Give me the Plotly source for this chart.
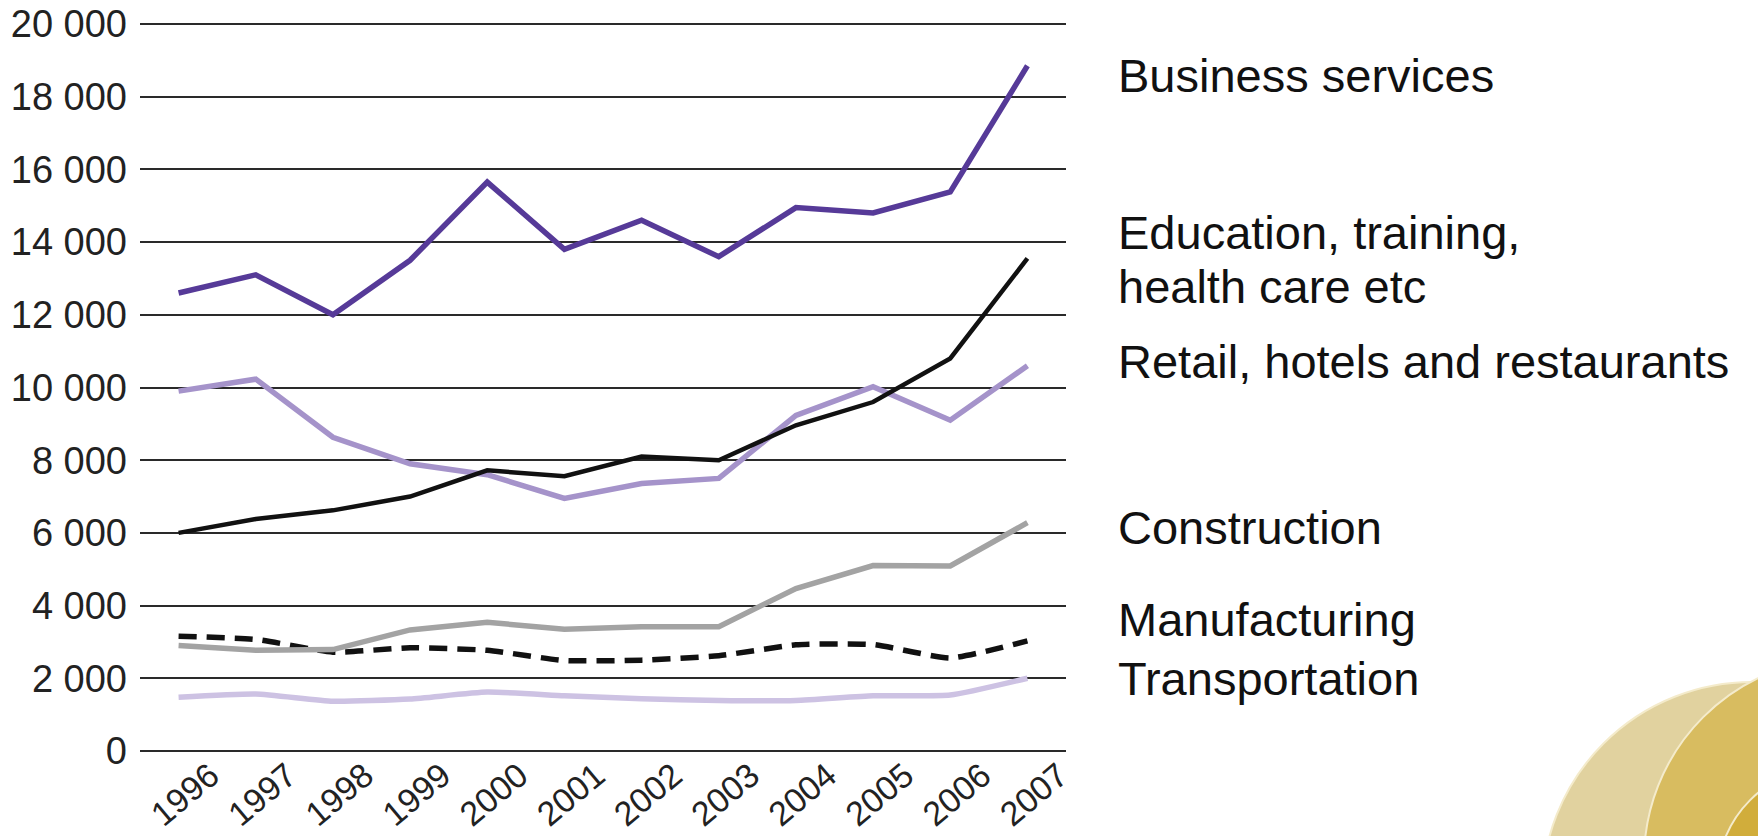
import plotly.graph_objects as go

years = ["1996", "1997", "1998", "1999", "2000", "2001", "2002", "2003", "2004", "2005", "2006", "2007"]
business = [12600, 13100, 12000, 13500, 15650, 13800, 14600, 13600, 14950, 14800, 15380, 18850]
education = [6000, 6380, 6620, 7000, 7720, 7560, 8100, 8000, 8960, 9600, 10800, 13550]
retail = [9900, 10230, 8630, 7900, 7600, 6950, 7360, 7500, 9230, 10020, 9100, 10600]
construction = [2900, 2770, 2790, 3330, 3540, 3350, 3420, 3420, 4470, 5100, 5090, 6280]
manufacturing = [3160, 3070, 2720, 2840, 2770, 2490, 2500, 2620, 2920, 2930, 2560, 3030]
transportation = [1480, 1570, 1370, 1430, 1620, 1520, 1440, 1390, 1390, 1520, 1540, 2000]

y_ticks = [0, 2000, 4000, 6000, 8000, 10000, 12000, 14000, 16000, 18000, 20000]

FONT = "Liberation Sans, Arial, sans-serif"
W, H = 1758, 836
ML, MR, MT, MB = 140, 692, 22, 85
PW, PH = W - ML - MR, H - MT - MB
Y_TOP = 20000 * PH / 727.0  # keeps 20 000 gridline just inside the plot area

fig = go.Figure()
series = [
    ("Transportation", transportation, dict(color="#cdc2e3", width=5.5, shape="spline", smoothing=0.5)),
    ("Manufacturing", manufacturing, dict(color="#111111", width=5.5, dash="18px,10px", shape="spline", smoothing=0.5)),
    ("Construction", construction, dict(color="#a3a3a3", width=5.5)),
    ("Retail, hotels and restaurants", retail, dict(color="#a593ca", width=5.5)),
    ("Education, training, health care etc", education, dict(color="#111111", width=4.5)),
    ("Business services", business, dict(color="#563a98", width=5.5)),
]
for name, vals, line in series:
    fig.add_trace(go.Scatter(x=years, y=vals, mode="lines", name=name, line=line,
                             hoverinfo="skip"))


def px_x(px):
    return (px - ML) / PW


def px_y(py):
    return (H - MB - py) / PH


# right-side labels
labels = [
    ("Business services", 75),
    ("Education, training,", 233),
    ("health care etc", 286),
    ("Retail, hotels and restaurants", 362),
    ("Construction", 527),
    ("Manufacturing", 619),
    ("Transportation", 678),
]
for text, py in labels:
    fig.add_annotation(x=px_x(1116), y=px_y(py), xref="paper", yref="paper", text=text,
                       showarrow=False, xanchor="left", yanchor="middle",
                       font=dict(family=FONT, size=47, color="#111111"))


# decorative discs bottom-right
def disc(cx, cy, r, fill):
    fig.add_shape(type="circle", xref="paper", yref="paper",
                  x0=px_x(cx - r), x1=px_x(cx + r), y0=px_y(cy + r), y1=px_y(cy - r),
                  fillcolor=fill, line=dict(color="#f4ebcb", width=2), layer="below")


disc(1752, 892, 210, "#e1d29f")
disc(1846, 860, 202, "#d8bc60")
disc(1830, 880, 113, "#d1ad3b")

fig.update_layout(
    width=W, height=H, autosize=False,
    margin=dict(l=ML, r=MR, t=MT, b=MB, pad=0, autoexpand=False),
    paper_bgcolor="white", plot_bgcolor="white",
    showlegend=False, separators=". ",
    font=dict(family=FONT, color="#222222"),
    xaxis=dict(type="category", range=[-0.5, 11.5], showgrid=False, zeroline=False,
               showline=False, ticks="", tickangle=-40, automargin=False,
               tickfont=dict(family=FONT, size=34, color="#222222"),
               ticklabelshift=32, ticklabelstandoff=-3),
    yaxis=dict(range=[0, Y_TOP], tickvals=y_ticks, tickformat=",d", showgrid=True,
               gridcolor="#2a2a2a", gridwidth=2, zeroline=True, zerolinecolor="#2a2a2a",
               zerolinewidth=2, showline=False, ticks="", automargin=False,
               tickfont=dict(family=FONT, size=38, color="#222222"),
               ticklabelstandoff=12),
)

fig.write_html("out.html")
